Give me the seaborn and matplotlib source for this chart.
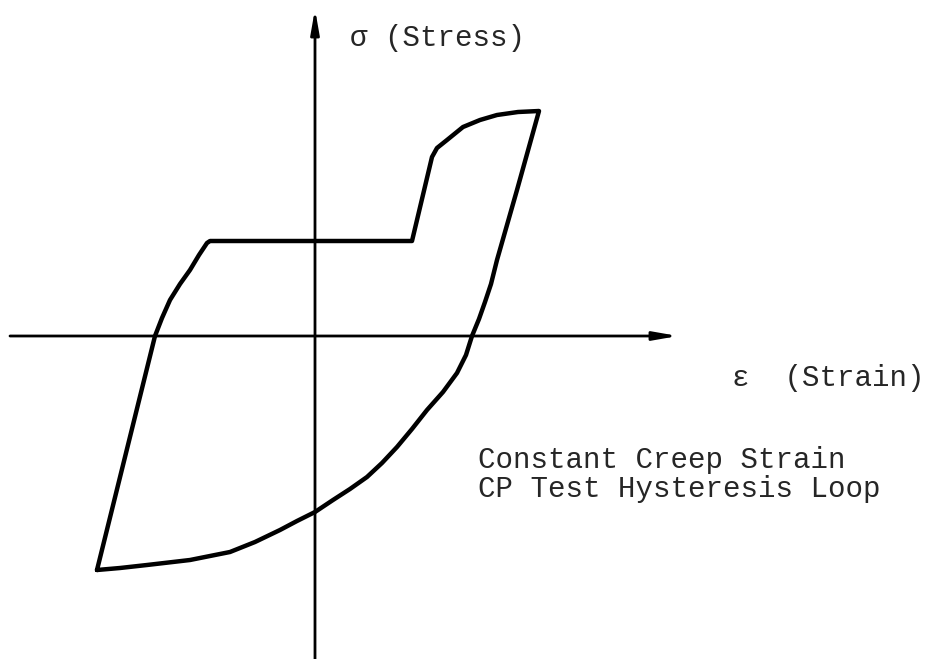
import numpy as np
import pandas as pd
import matplotlib
matplotlib.use("Agg")
import matplotlib.pyplot as plt
import seaborn as sns

# hysteresis loop (strain, stress), arbitrary units
strain = [-2.18, -1.60, -1.53, -1.45, -1.35, -1.25, -1.16, -1.08, -1.05,
          0.97, 1.17, 1.22, 1.32, 1.48, 1.65, 1.82, 2.03, 2.24,
          2.02, 1.82, 1.76, 1.70, 1.64, 1.57, 1.51, 1.42, 1.28, 1.12, 0.97, 0.82,
          0.67, 0.52, 0.35, 0.18, 0.0, -0.18, -0.35, -0.60, -0.85, -1.25,
          -1.68, -1.95, -2.18]
stress = [-2.34, 0.0, 0.18, 0.36, 0.52, 0.66, 0.81, 0.93, 0.95,
          0.95, 1.79, 1.88, 1.96, 2.09, 2.16, 2.21, 2.24, 2.25,
          1.46, 0.76, 0.52, 0.34, 0.17, 0.0, -0.19, -0.37, -0.56, -0.74, -0.93, -1.11,
          -1.27, -1.41, -1.53, -1.64, -1.76, -1.85, -1.94, -2.06, -2.16, -2.24,
          -2.29, -2.32, -2.34]

# axis extents
x_axis = [-3.05, 3.63]
y_axis = [-3.25, 3.27]

labels = ["\u03c3 (Stress)", "\u03b5  (Strain)",
          "Constant Creep Strain\nCP Test Hysteresis Loop"]

sns.set_style("white")
plt.rcParams['font.family'] = ['Liberation Mono', 'DejaVu Sans Mono']

fig = plt.figure(figsize=(9.46, 6.59), dpi=100)
ax = fig.add_axes([0, 0, 1, 1])

df = pd.DataFrame({"strain": strain, "stress": stress})
sns.lineplot(data=df, x="strain", y="stress", sort=False, estimator=None,
             color="black", lw=3.2, ax=ax)
ax.lines[-1].set_solid_joinstyle("round")

# coordinate axes with small narrow arrow heads
arrow = dict(arrowstyle="-|>,head_length=0.8,head_width=0.14", color="black",
             lw=2.0, mutation_scale=18, shrinkA=0, shrinkB=0)
ax.annotate("", xy=(x_axis[1], 0), xytext=(x_axis[0], 0), arrowprops=arrow)
ax.annotate("", xy=(0, y_axis[1]), xytext=(0, y_axis[0]), arrowprops=arrow)

ax.text(0.35, 2.98, labels[0], fontsize=21, ha="left", va="center")
ax.text(4.17, -0.42, labels[1], fontsize=21, ha="left", va="center")
ax.text(1.63, -1.1, labels[2], fontsize=21, ha="left", va="top",
        linespacing=1.05)

ax.set_xlim(-3.15, 6.31)
ax.set_ylim(-3.23, 3.36)
ax.axis("off")

fig.savefig("out.png", dpi=100)
